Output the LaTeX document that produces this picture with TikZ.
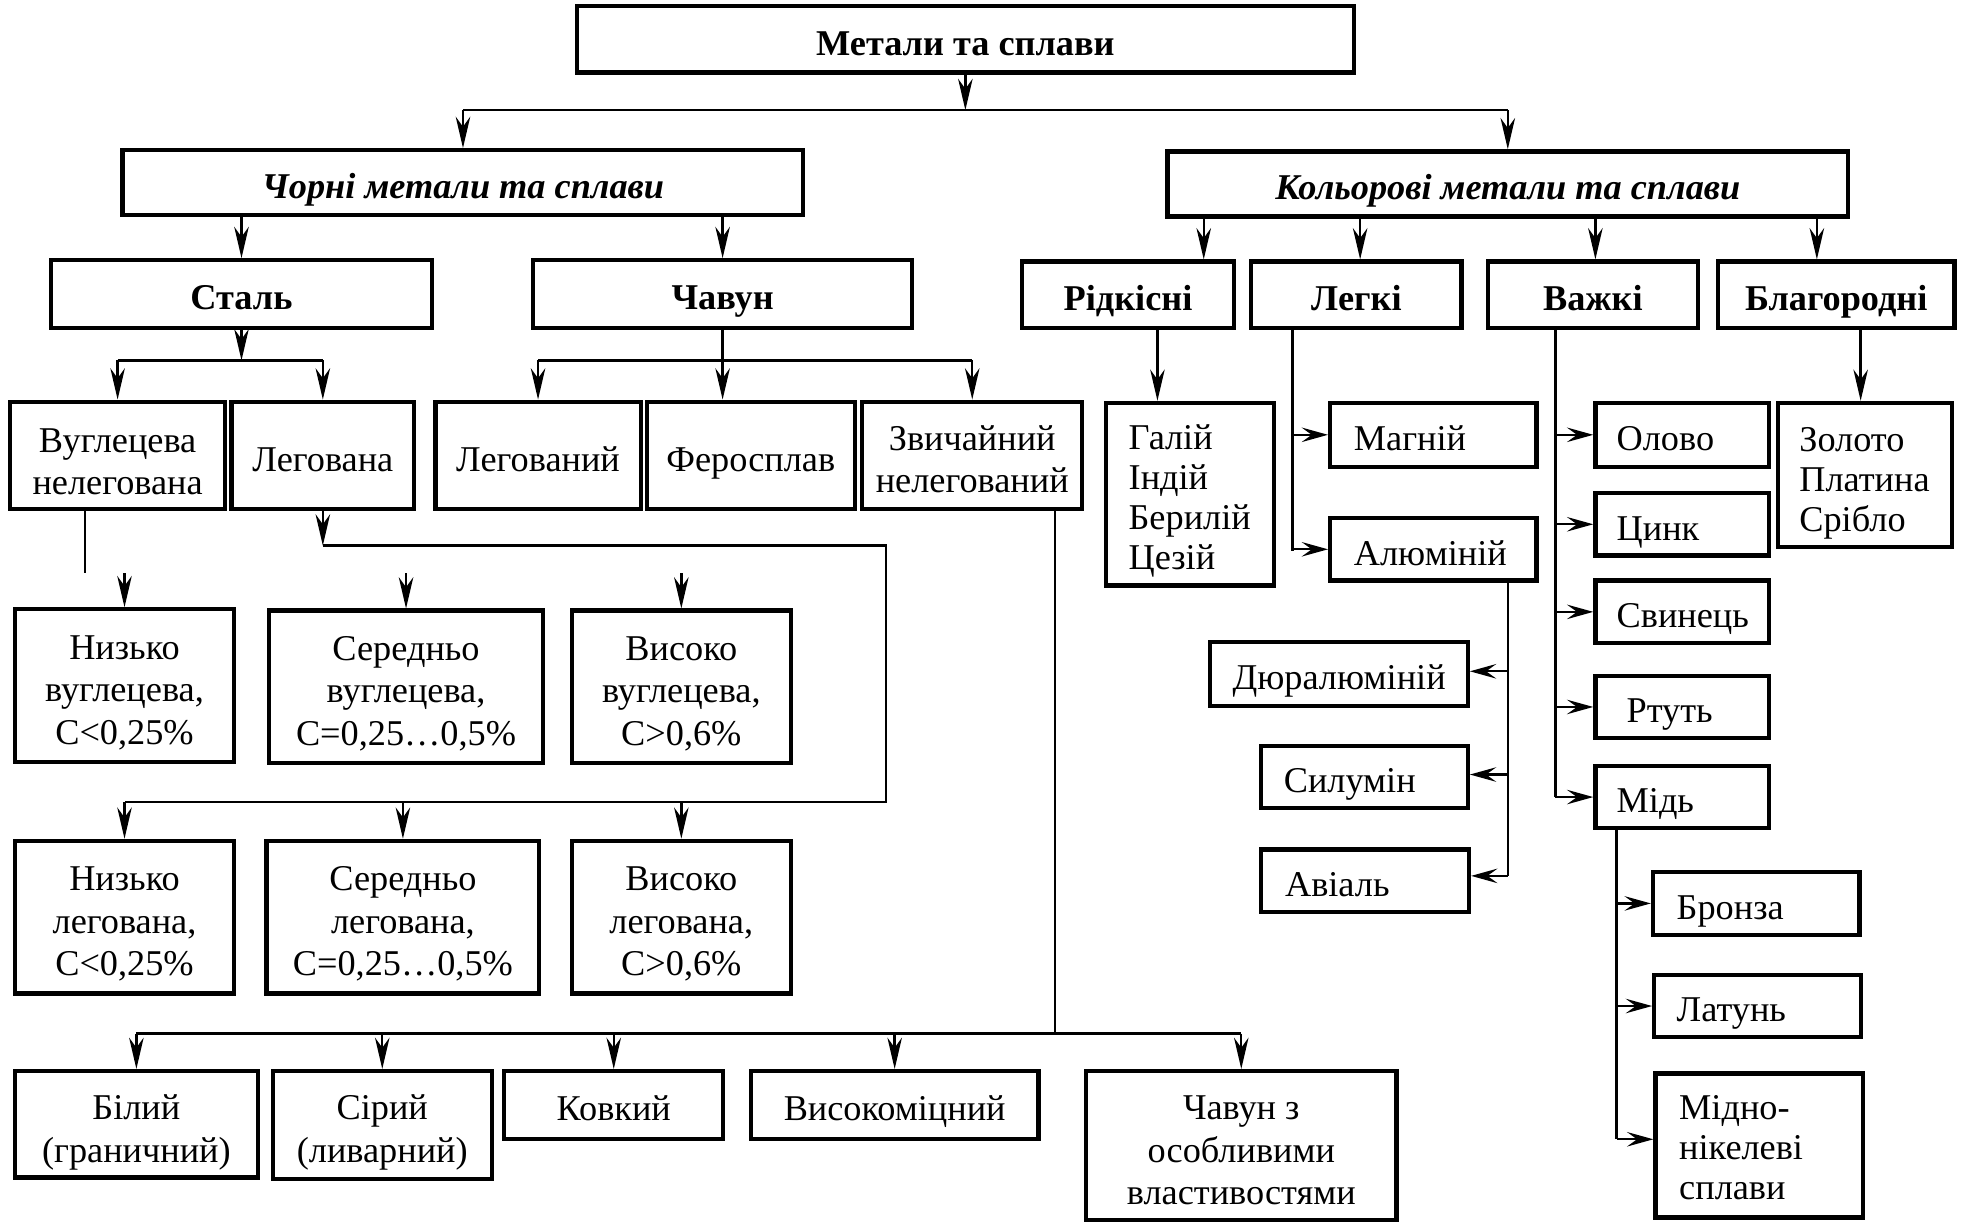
\documentclass[tikz,border=0pt]{standalone}
\usepackage{fontspec}
\setmainfont{Liberation Serif}
\usetikzlibrary{arrows.meta}
\hyphenpenalty=10000
\tikzset{
  box/.style={draw, line width=1.7pt, inner sep=0pt, align=center, font=\fontsize{14.5}{17}\selectfont},
  lbx/.style={font=\fontsize{14.5}{16}\selectfont},
  one/.style={text height=13pt, text depth=0.4pt},
  ln/.style={line width=0.95pt},
  arr/.style={line width=0.95pt, -{Stealth[length=12.5pt,width=5.8pt,inset=4pt]}},
  harr/.style={line width=0.95pt, -{Stealth[length=10.5pt,width=5.8pt,inset=4pt]}},
}
\newcommand\st[1]{\rule{0pt}{#1pt}}
\newcommand\cbox[7][]{%
  \pgfmathsetlengthmacro\bw{(#4-#2)*0.5}%
  \pgfmathsetlengthmacro\bh{(#5-#3)*0.5}%
  \node[box,minimum width=\bw,minimum height=\bh,#1] (#6) at ({(#2+#4)/2},{(#3+#5)/2}) {#7};}
\newcommand\lbox[8][]{%
  \pgfmathsetlengthmacro\bxs{(#7-#2)*0.5}%
  \pgfmathsetlengthmacro\bt{((#4-#2)-2*(#7-#2))*0.5}%
  \pgfmathsetlengthmacro\bh{(#5-#3)*0.5}%
  \node[box,lbx,inner xsep=\bxs,text width=\bt,align=left,minimum height=\bh,#1] (#6) at ({(#2+#4)/2},{(#3+#5)/2}) {#8};}
\begin{document}
\begin{tikzpicture}[x=0.5pt,y=-0.5pt]
\useasboundingbox (0,0) rectangle (1568,977);
% boxes
\cbox[one]{461}{5}{1082}{58}{top}{\bfseries Метали та сплави}
\cbox[one]{98}{120}{642}{172}{chorni}{\bfseries\itshape Чорні метали та сплави}
\cbox[one]{933}{121}{1477}{173}{kol}{\bfseries\itshape Кольорові метали та сплави}
\cbox[one]{41}{208}{345}{262}{stal}{\bfseries Сталь}
\cbox[one]{426}{208}{729}{262}{chavun}{\bfseries Чавун}
\cbox[one]{817}{209}{986}{262}{rid}{\bfseries Рідкісні}
\cbox[one]{1000}{209}{1168}{262}{legki}{\bfseries Легкі}
\cbox[one]{1189}{209}{1357}{262}{vazhki}{\bfseries Важкі}
\cbox[one]{1373}{209}{1562}{262}{blag}{\bfseries Благородні}
\cbox{8}{321}{180}{407}{vug}{\st{14.5}Вуглецева\\нелегована}
\cbox[one]{185}{321}{331}{407}{leg}{Легована}
\cbox[one]{348}{321}{512}{407}{legd}{Легований}
\cbox[one]{517}{321}{683}{407}{fero}{Феросплав}
\cbox{689}{321}{865}{407}{zvych}{\st{13}Звичайний\\нелегований}
\cbox{12}{487}{187}{609}{nv}{\st{15}Низько\\вуглецева,\\C<0,25\%}
\cbox{215}{488}{434}{610}{sv}{\st{15}Середньо\\вуглецева,\\C=0,25…0,5\%}
\cbox{457}{488}{632}{610}{vv}{\st{15}Високо\\вуглецева,\\C>0,6\%}
\cbox{12}{672}{187}{794}{nl}{\st{15}Низько\\легована,\\C<0,25\%}
\cbox{213}{672}{431}{794}{sl}{\st{15}Середньо\\легована,\\C=0,25…0,5\%}
\cbox{457}{672}{632}{794}{vl}{\st{15}Високо\\легована,\\C>0,6\%}
\cbox{12}{856}{206}{941}{bil}{\st{16.5}Білий\\(граничний)}
\cbox{218}{856}{393}{942}{sir}{\st{16}Сірий\\(ливарний)}
\cbox[one]{403}{856}{578}{910}{kovk}{Ковкий}
\cbox[one]{600}{856}{830}{910}{vysm}{Високоміцний}
\cbox{868}{856}{1116}{975}{chz}{\st{13.5}Чавун з\\особливими\\властивостями}
\lbox{884}{322}{1018}{468}{gal}{902}{\st{15.5}Галій\\Індій\\Берилій\\Цезій}
\lbox[one]{1063}{322}{1228}{373}{magn}{1082}{Магній}
\lbox[one]{1063}{414}{1228}{464}{alum}{1082}{Алюміній}
\lbox[one]{967}{513}{1173}{564}{dur}{985}{Дюралюміній}
\lbox[one]{1008}{596}{1173}{646}{syl}{1026}{Силумін}
\lbox[one]{1008}{679}{1174}{729}{avial}{1027}{Авіаль}
\lbox[one]{1275}{322}{1414}{373}{olovo}{1292}{Олово}
\lbox[one]{1275}{394}{1414}{444}{tsynk}{1292}{Цинк}
\lbox[one]{1275}{464}{1414}{514}{svyn}{1292}{Свинець}
\lbox[one]{1275}{540}{1414}{590}{rtut}{1300}{Ртуть}
\lbox[one]{1275}{612}{1414}{662}{mid}{1292}{Мідь}
\lbox[one]{1321}{697}{1486}{747}{bronza}{1340}{Бронза}
\lbox[one]{1322}{779}{1487}{829}{latun}{1340}{Латунь}
\lbox{1323}{858}{1489}{973}{midno}{1342}{\st{11.5}Мідно-\\нікелеві\\сплави}
\lbox{1421}{322}{1560}{437}{zol}{1438}{\st{16.5}Золото\\Платина\\Срібло}
% helper coordinates
\coordinate (h0) at (0,88);
\coordinate (h1) at (0,288);
\coordinate (s1) at (68,458);
\coordinate (c1) at (708,436);
\coordinate (c2) at (708,641);
\coordinate (c3) at (843,826);
\coordinate (k1) at (962,0);
\coordinate (k2) at (1087,0);
\coordinate (k3) at (1275,0);
\coordinate (k4) at (1452,0);
\coordinate (r1) at (925,0);
\coordinate (l1) at (1033,440);
\coordinate (a1) at (1205,0);
\coordinate (v1) at (1243,0);
\coordinate (m1) at (1292,0);
\coordinate (b1) at (1487,0);
% connectors
\draw[arr] (top.south) -- (top.south |- h0);
\draw[ln] (chorni.north |- h0) -- (kol.north |- h0);
\draw[arr] (chorni.north |- h0) -- (chorni.north);
\draw[arr] (kol.north |- h0) -- (kol.north);
\draw[arr] (chorni.south -| stal.north) -- (stal.north);
\draw[arr] (chorni.south -| chavun.north) -- (chavun.north);
\foreach \k/\n in {k1/rid,k2/legki,k3/vazhki,k4/blag}
  \draw[arr] (kol.south -| \k) -- (\n.north -| \k);
\draw[arr] (stal.south) -- (stal.south |- h1);
\draw[ln] (vug.north |- h1) -- (leg.north |- h1);
\draw[arr] (vug.north |- h1) -- (vug.north);
\draw[arr] (leg.north |- h1) -- (leg.north);
\draw[arr] (chavun.south) -- (chavun.south |- fero.north);
\draw[ln] (legd.north |- h1) -- (zvych.north |- h1);
\draw[arr] (legd.north |- h1) -- (legd.north);
\draw[arr] (zvych.north |- h1) -- (zvych.north);
\draw[ln] (vug.south -| s1) -- (s1);
\foreach \n in {nv,sv,vv}
  \draw[arr] (\n.north |- s1) -- (\n.north);
\draw[arr] (leg.south) -- (leg.south |- c1);
\draw[ln] (leg.south |- c1) -- (c1) -- (c2) -- (nl.north |- c2);
\foreach \n in {nl,sl,vl}
  \draw[arr] (\n.north |- c2) -- (\n.north);
\draw[ln] (zvych.south -| c3) -- (c3);
\draw[ln] (bil.north |- c3) -- (chz.north |- c3);
\foreach \n in {bil,sir,kovk,vysm,chz}
  \draw[arr] (\n.north |- c3) -- (\n.north);
\draw[arr] (rid.south -| r1) -- (gal.north -| r1);
\draw[ln] (legki.south -| l1) -- (l1);
\draw[harr] (magn.west -| l1) -- (magn.west);
\draw[harr] (alum.west -| l1) -- (alum.west);
\draw[ln] (alum.south -| a1) -- ([yshift=2pt]avial.east -| a1);
\draw[harr] ([yshift=1pt]dur.east -| a1) -- ([yshift=1pt]dur.east);
\draw[harr] ([yshift=1pt]syl.east -| a1) -- ([yshift=1pt]syl.east);
\draw[harr] ([yshift=2pt]avial.east -| a1) -- ([yshift=2pt]avial.east);
\draw[ln] (vazhki.south -| v1) -- (mid.west -| v1);
\foreach \n in {olovo,tsynk,svyn,rtut,mid}
  \draw[harr] (\n.west -| v1) -- (\n.west);
\draw[ln] (mid.south -| m1) -- ([yshift=2.5pt]midno.west -| m1);
\draw[harr] (bronza.west -| m1) -- (bronza.west);
\draw[harr] (latun.west -| m1) -- (latun.west);
\draw[harr] ([yshift=2.5pt]midno.west -| m1) -- ([yshift=2.5pt]midno.west);
\draw[arr] (blag.south -| b1) -- (zol.north -| b1);
\end{tikzpicture}
\end{document}
